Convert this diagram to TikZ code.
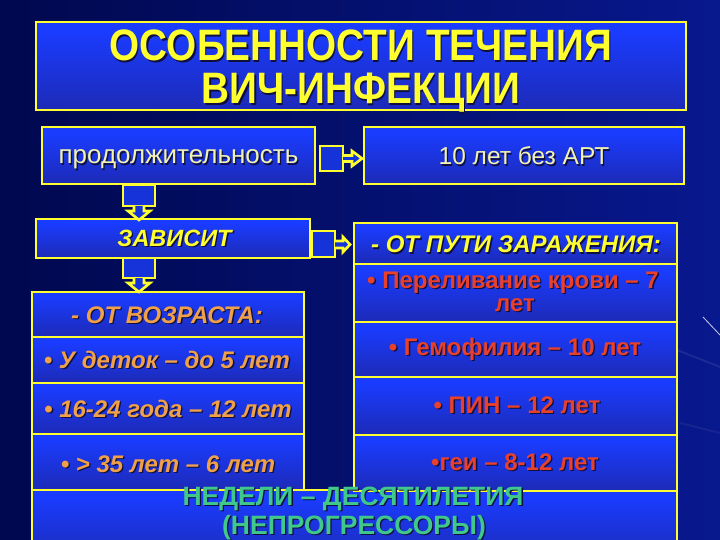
\documentclass[tikz,border=0pt]{standalone}
\usepackage{fontspec}
\usepackage{graphicx}
\setmainfont{Liberation Sans}
\definecolor{bgL}{HTML}{00084E}
\definecolor{bgR}{HTML}{08188E}
\definecolor{bbright}{HTML}{1A3CFF}
\definecolor{bdark}{HTML}{1E1E86}
\definecolor{btop}{HTML}{1E2CC0}
\definecolor{yel}{HTML}{FFFF30}
\definecolor{paleyel}{HTML}{F2F2B0}
\definecolor{orangec}{HTML}{F0A048}
\definecolor{redc}{HTML}{E8402A}
\definecolor{greenc}{HTML}{40C88A}
\definecolor{shadowc}{HTML}{101040}
\pgfdeclareverticalshading{boxshade}{100bp}{color(0bp)=(bdark); color(25bp)=(bdark!60!bbright); color(70bp)=(bbright); color(92bp)=(bbright); color(100bp)=(btop)}
\newcommand\shd[1]{\makebox[0pt][l]{\kern1.3bp\raisebox{-1.3bp}{\color{shadowc}#1}}#1}
\tikzset{
  box/.style={draw=yel, line width=2.6bp, shading=boxshade, inner sep=0pt},
  lbl/.style={anchor=base, inner sep=0pt},
  blockarrow/.style={draw=yel, line width=2.6bp, fill=bbright!85!black, line join=miter},
  streak/.style={white, line width=0.8bp},
}
\begin{document}
\begin{tikzpicture}[x=1bp,y=-1bp]
\useasboundingbox (0,0) rectangle (720,540);
\fill[left color=bgL, right color=bgR] (0,0) rectangle (720,540);
% faint streaks
\draw[streak, opacity=0.8] (703,317) -- (720,335);
\draw[streak, opacity=0.08, line width=2bp] (677,350) -- (720,367);
\draw[streak, opacity=0.06, line width=2bp] (680,423) -- (720,433);

% boxes
\node[box, minimum width=650bp, minimum height=88bp] (title) at (361,66) {};
\node[box, minimum width=273bp, minimum height=57bp] (prod) at (178.5,155.5) {};
\node[box, minimum width=320bp, minimum height=57bp] (ten) at (524,155.5) {};
\node[box, minimum width=274bp, minimum height=39bp] (zav) at (173,238.5) {};
\path[box] (32,490) rectangle (677,560);
\node[box, minimum width=272bp, minimum height=45bp] (L1) at (168,314.5) {};
\node[box, minimum width=272bp, minimum height=46bp] (L2) at (168,360) {};
\node[box, minimum width=272bp, minimum height=51bp] (L3) at (168,408.5) {};
\node[box, minimum width=272bp, minimum height=56bp] (L4) at (168,462) {};
\node[box, minimum width=323bp, minimum height=41bp] (R1) at (515.5,243.5) {};
\node[box, minimum width=323bp, minimum height=58bp] (R2) at (515.5,293) {};
\node[box, minimum width=323bp, minimum height=55bp] (R3) at (515.5,349.5) {};
\node[box, minimum width=323bp, minimum height=58bp] (R4) at (515.5,406) {};
\node[box, minimum width=323bp, minimum height=56bp] (R5) at (515.5,463) {};

% block arrows
\draw[blockarrow] (320,146) rectangle (343,171);
\draw[blockarrow] (343,155.5) -- (352,155.5) -- (352,151) -- (362,158.5) -- (352,166) -- (352,161.5) -- (343,161.5);
\draw[blockarrow] (312,231) rectangle (335,257);
\draw[blockarrow] (335,241) -- (343,241) -- (343,237) -- (350,244.5) -- (343,252) -- (343,248) -- (335,248);
\draw[blockarrow] (123,185) rectangle (155,206);
\draw[blockarrow] (134,206) -- (134,211) -- (128,211) -- (139,220) -- (150,211) -- (144,211) -- (144,206);
\draw[blockarrow] (123,258) rectangle (155,278);
\draw[blockarrow] (134,278) -- (134,283) -- (128,283) -- (139,292) -- (150,283) -- (144,283) -- (144,278);

% texts
\tikzset{
  ttl/.style={lbl, text=yel, font=\fontsize{44bp}{44bp}\selectfont\bfseries},
  ltxt/.style={lbl, text=orangec, font=\fontsize{24bp}{26bp}\selectfont\bfseries\itshape},
  rtxt/.style={lbl, text=redc, font=\fontsize{24bp}{26bp}\selectfont\bfseries},
  gtxt/.style={lbl, text=greenc, font=\fontsize{26.5bp}{30bp}\selectfont\bfseries},
}
\node[ttl] (t1) at (361,61) {\scalebox{0.88}[1]{\shd{ОСОБЕННОСТИ ТЕЧЕНИЯ}}};
\node[ttl] (t2) at (361,104) {\scalebox{0.88}[1]{\shd{ВИЧ-ИНФЕКЦИИ}}};
\node[lbl, text=paleyel, font=\fontsize{26bp}{28bp}\selectfont] (prodt) at (178.5,164) {\shd{продолжительность}};
\node[lbl, text=paleyel, font=\fontsize{24.5bp}{26bp}\selectfont] (tent) at (524,165) {\shd{10 лет без АРТ}};
\node[lbl, text=yel, font=\fontsize{23.5bp}{26bp}\selectfont\bfseries\itshape] (zavt) at (174.5,246.5) {\shd{ЗАВИСИТ}};

\node[ltxt] (L1t) at (167,323) {\shd{- ОТ ВОЗРАСТА:}};
\node[ltxt] (L2t) at (167,368) {\shd{• У деток – до 5 лет}};
\node[ltxt] (L3t) at (168,417) {\shd{• 16-24 года – 12 лет}};
\node[ltxt] (L4t) at (168,472) {\shd{• > 35 лет – 6 лет}};

\node[lbl, text=yel, font=\fontsize{24bp}{26bp}\selectfont\bfseries\itshape] (R1t) at (516,253) {\shd{- ОТ ПУТИ ЗАРАЖЕНИЯ:}};
\node[rtxt] (R2t) at (513,288) {\shd{• Переливание крови – 7}};
\node[rtxt] (R2u) at (515,311) {\shd{лет}};
\node[rtxt] (R3t) at (515,355) {\shd{• Гемофилия – 10 лет}};
\node[rtxt] (R4t) at (517,413) {\shd{• ПИН – 12 лет}};
\node[rtxt] (R5t) at (515,470) {\shd{•геи – 8-12 лет}};

\node[gtxt] (w1) at (353,505) {\shd{НЕДЕЛИ – ДЕСЯТИЛЕТИЯ}};
\node[gtxt] (w2) at (354,534) {\shd{(НЕПРОГРЕССОРЫ)}};
\end{tikzpicture}
\end{document}
